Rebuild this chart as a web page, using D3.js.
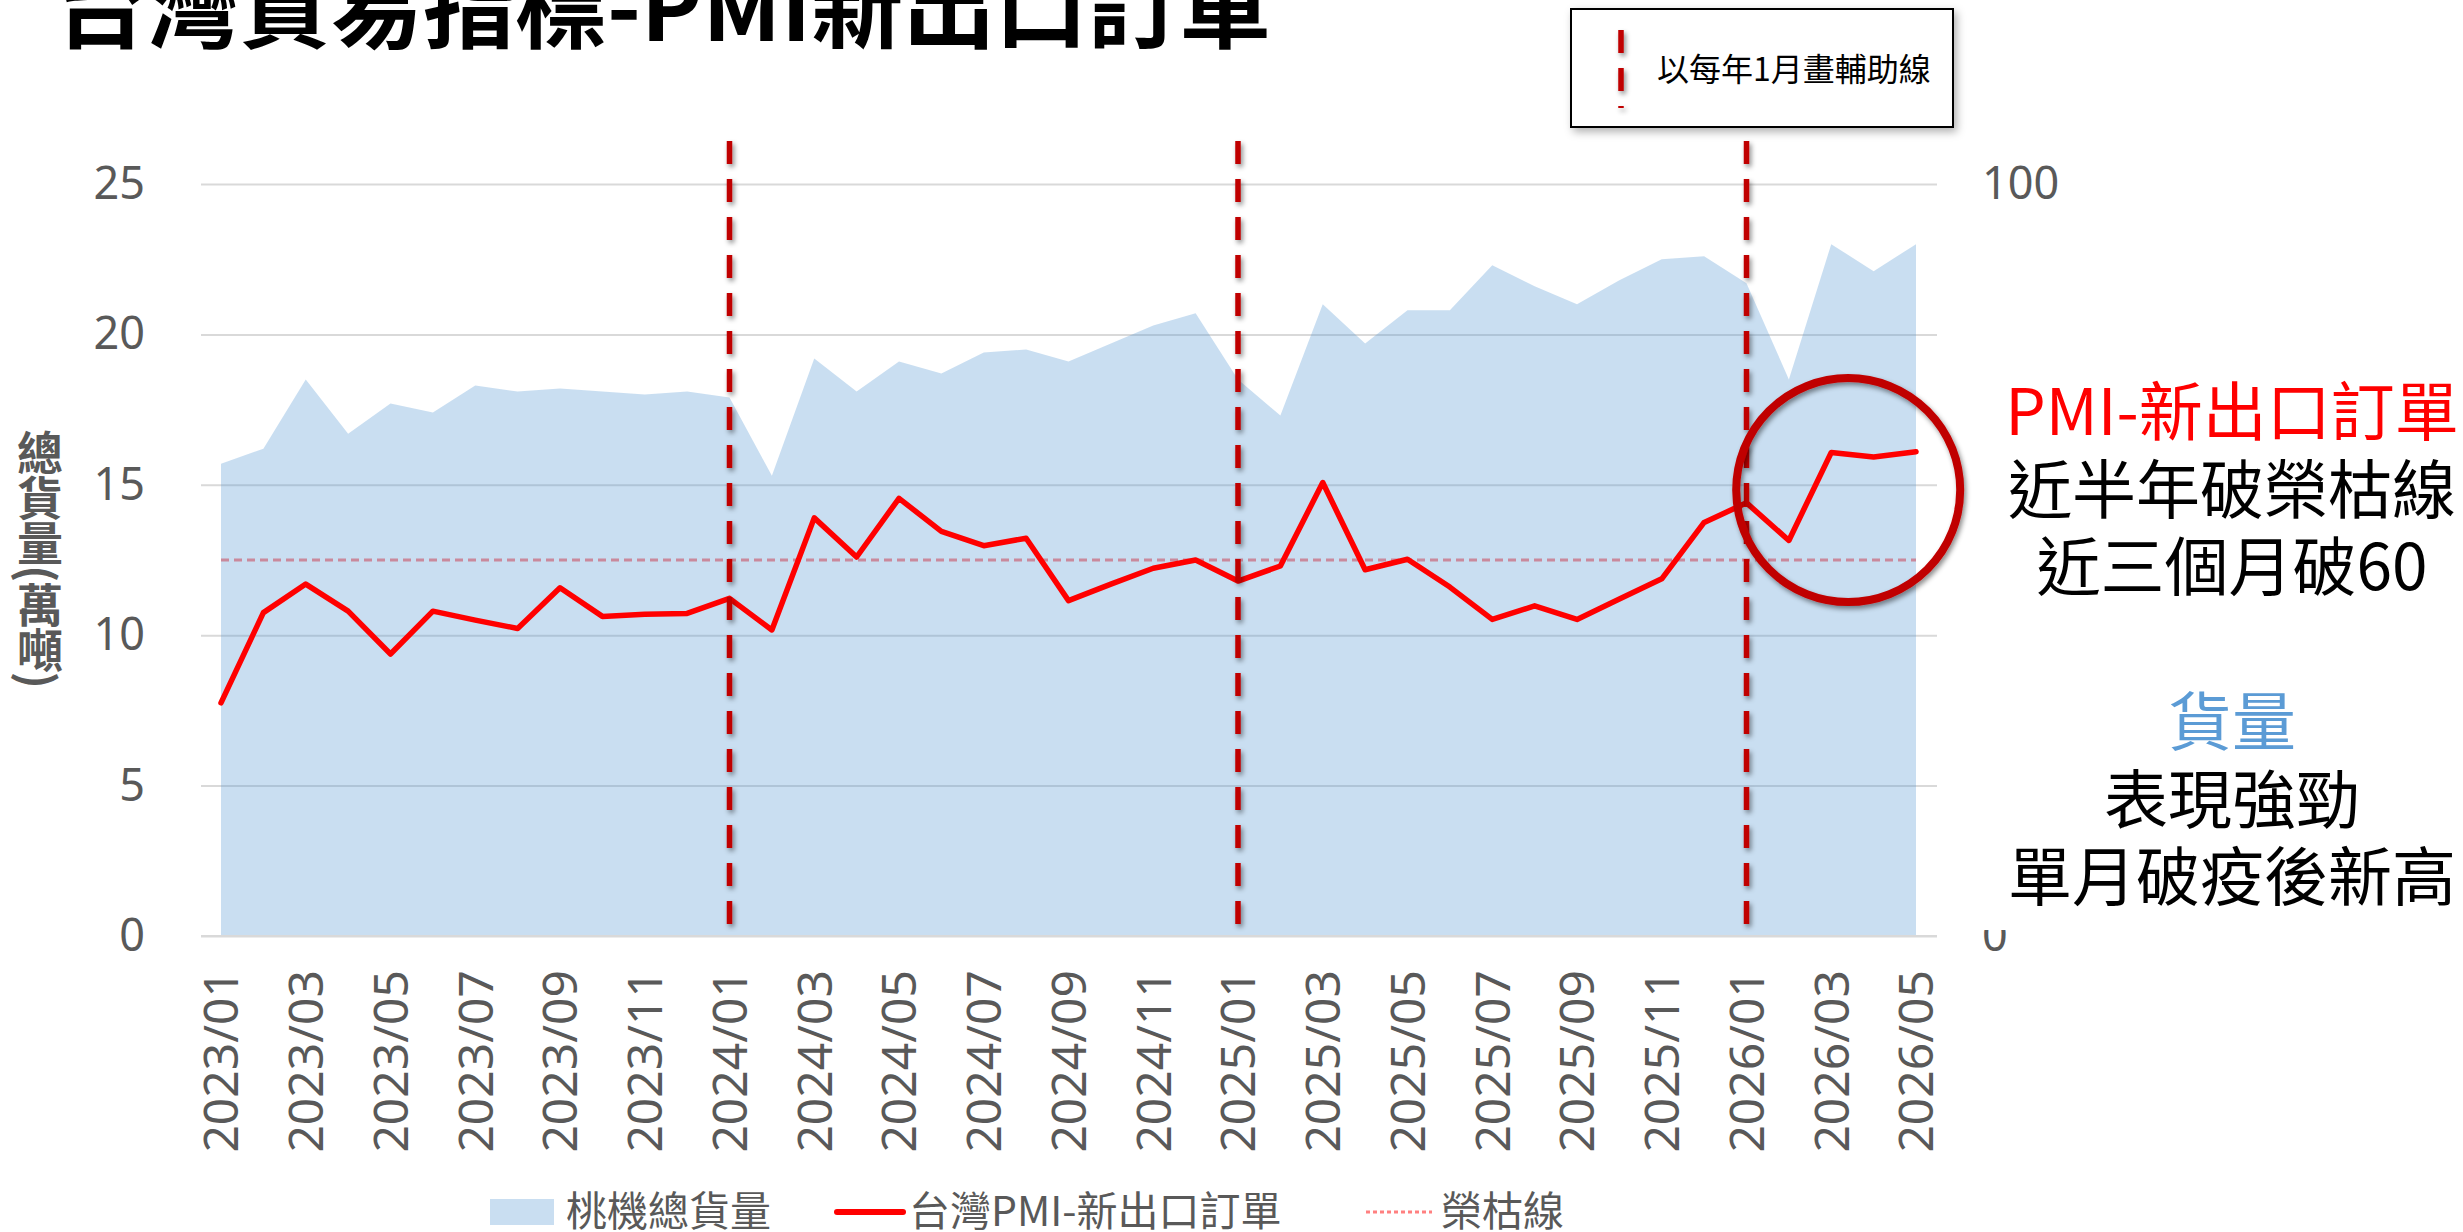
<!DOCTYPE html>
<html>
<head>
<meta charset="utf-8">
<script src="https://cdn.jsdelivr.net/npm/d3@7/dist/d3.min.js"></script>
<style>
  body { margin: 0; background: #fff; }
  svg { display: block; font-family: "Noto Sans CJK TC", "Noto Sans", sans-serif; }
</style>
</head>
<body>
<div id="chart"></div>
<script>
// Monthly data, 2023/01 - 2026/05
var months = [
  "2023/01","2023/02","2023/03","2023/04","2023/05","2023/06","2023/07","2023/08","2023/09","2023/10","2023/11","2023/12",
  "2024/01","2024/02","2024/03","2024/04","2024/05","2024/06","2024/07","2024/08","2024/09","2024/10","2024/11","2024/12",
  "2025/01","2025/02","2025/03","2025/04","2025/05","2025/06","2025/07","2025/08","2025/09","2025/10","2025/11","2025/12",
  "2026/01","2026/02","2026/03","2026/04","2026/05"
];

// 桃機總貨量 (萬噸), left axis
var cargo = [
  15.7, 16.2, 18.5, 16.7, 17.7, 17.4, 18.3, 18.1, 18.2, 18.1, 18.0, 18.1,
  17.9, 15.3, 19.2, 18.1, 19.1, 18.7, 19.4, 19.5, 19.1, 19.7, 20.3, 20.7,
  18.5, 17.3, 21.0, 19.7, 20.8, 20.8, 22.3, 21.6, 21.0, 21.8, 22.5, 22.6,
  21.7, 18.5, 23.0, 22.1, 23.0
];

// 台灣PMI-新出口訂單, right axis
var pmiExport = [
  31.0, 43.0, 46.8, 43.2, 37.5, 43.2, 42.0, 40.9, 46.3, 42.5, 42.8, 42.9,
  44.9, 40.7, 55.6, 50.4, 58.2, 53.8, 51.9, 52.9, 44.6, 46.8, 48.9, 50.0,
  47.2, 49.2, 60.3, 48.7, 50.1, 46.4, 42.1, 43.9, 42.1, 44.8, 47.5, 55.0,
  57.6, 52.6, 64.3, 63.7, 64.4
];

var boomBust = 50;               // 榮枯線
var leftTicks = [0, 5, 10, 15, 20, 25];
var rightTicks = [0, 100];
var labelEvery = 2;              // x labels on odd months

var title = "台灣貿易指標-PMI新出口訂單";
var noteLines = [
  {text: "PMI-新出口訂單", color: "#FF0000"},
  {text: "近半年破榮枯線", color: "#000"},
  {text: "近三個月破60", color: "#000"},
  {text: "", color: "#000"},
  {text: "貨量", color: "#5B9BD5"},
  {text: "表現強勁", color: "#000"},
  {text: "單月破疫後新高", color: "#000"}
];

var W = 2463, H = 1232;
var gridLeft = 201, gridRight = 1937;
var plotTop = 184, plotBottom = 936;
var grey = "#595959";

var x = d3.scaleLinear().domain([0, months.length - 1]).range([221, 1916]);
var yL = d3.scaleLinear().domain([0, 25]).range([plotBottom, plotTop]);
var yR = d3.scaleLinear().domain([0, 100]).range([plotBottom, plotTop]);

var svg = d3.select("#chart").append("svg")
    .attr("width", W)
    .attr("height", H);

// shadows (user space so thin vertical lines keep a filter region)
var defs = svg.append("defs");
var sh = defs.append("filter").attr("id", "shadow")
    .attr("filterUnits", "userSpaceOnUse")
    .attr("x", 0).attr("y", 0).attr("width", W).attr("height", H);
sh.append("feDropShadow").attr("dx", 2).attr("dy", 3).attr("stdDeviation", 2.5)
    .attr("flood-color", "#000").attr("flood-opacity", 0.45);
var boxSh = defs.append("filter").attr("id", "boxshadow")
    .attr("filterUnits", "userSpaceOnUse")
    .attr("x", 0).attr("y", 0).attr("width", W).attr("height", H);
boxSh.append("feDropShadow").attr("dx", 3).attr("dy", 4).attr("stdDeviation", 4)
    .attr("flood-color", "#000").attr("flood-opacity", 0.3);

// gridlines
svg.append("g")
    .attr("transform", "translate(" + gridLeft + ",0)")
    .call(d3.axisLeft(yL).tickValues(leftTicks).tickSize(-(gridRight - gridLeft)).tickFormat(""))
    .call(function(g) {
        g.select(".domain").remove();
        g.selectAll("line").attr("stroke", "#D9D9D9").attr("stroke-width", 2);
    });

// 榮枯線 (under the transparent area)
svg.append("line")
    .attr("x1", x(0)).attr("x2", x(months.length - 1))
    .attr("y1", yR(boomBust)).attr("y2", yR(boomBust))
    .attr("stroke", "#FF8080")
    .attr("stroke-width", 3)
    .attr("stroke-dasharray", "8,5");

// cargo area
var area = d3.area()
    .x(function(d, i) { return x(i); })
    .y0(yL(0))
    .y1(function(d) { return yL(d); });

svg.append("path")
    .datum(cargo)
    .attr("d", area)
    .attr("fill", "rgb(91,155,213)")
    .attr("fill-opacity", 0.33);

// PMI line
var line = d3.line()
    .x(function(d, i) { return x(i); })
    .y(function(d) { return yR(d); });

svg.append("path")
    .datum(pmiExport)
    .attr("d", line)
    .attr("fill", "none")
    .attr("stroke", "#FF0000")
    .attr("stroke-width", 5.5)
    .attr("stroke-linejoin", "round")
    .attr("stroke-linecap", "round");

// helper lines at every January
var januaries = months.map(function(m, i) { return i; })
    .filter(function(i) { return i > 0 && months[i].slice(5) === "01"; });

svg.append("g")
    .attr("filter", "url(#shadow)")
    .selectAll("line")
    .data(januaries)
    .enter().append("line")
    .attr("x1", function(i) { return x(i); })
    .attr("x2", function(i) { return x(i); })
    .attr("y1", 141).attr("y2", 930)
    .attr("stroke", "#C00000")
    .attr("stroke-width", 5.5)
    .attr("stroke-dasharray", "23,15");

// left axis labels
svg.append("g")
    .attr("transform", "translate(" + gridLeft + ",0)")
    .call(d3.axisLeft(yL).tickValues(leftTicks).tickSize(0).tickPadding(56))
    .call(function(g) {
        g.select(".domain").remove();
        g.selectAll("text").attr("fill", grey).style("font-size", "45px")
            .style("font-family", "'Noto Sans', sans-serif");
    });

// x axis
svg.append("g")
    .attr("transform", "translate(0," + plotBottom + ")")
    .call(d3.axisBottom(x)
        .tickValues(d3.range(0, months.length, labelEvery))
        .tickSize(0)
        .tickFormat(function(i) { return months[i]; }))
    .call(function(g) {
        g.select(".domain").remove();
        g.selectAll("text")
            .attr("transform", "rotate(-90)")
            .attr("x", -34).attr("y", 0).attr("dy", "0.35em")
            .attr("text-anchor", "end")
            .attr("fill", grey)
            .style("font-size", "48px")
            .style("font-family", "'Noto Sans', sans-serif");
    });

svg.append("line")
    .attr("x1", gridLeft).attr("x2", gridRight)
    .attr("y1", plotBottom).attr("y2", plotBottom)
    .attr("stroke", "#D9D9D9").attr("stroke-width", 2);

// right axis labels
svg.append("g")
    .attr("transform", "translate(" + gridRight + ",0)")
    .call(d3.axisRight(yR).tickValues(rightTicks).tickSize(0).tickPadding(45))
    .call(function(g) {
        g.select(".domain").remove();
        g.selectAll("text").attr("fill", grey).style("font-size", "45px")
            .style("font-family", "'Noto Sans', sans-serif");
    });

// y axis title
svg.append("text")
    .attr("x", 40).attr("y", 430)
    .style("writing-mode", "vertical-rl")
    .style("font-size", "46px")
    .style("letter-spacing", "-1px")
    .style("font-weight", "bold")
    .attr("fill", grey)
    .text("總貨量(萬噸)");

// white box behind notes
svg.append("rect")
    .attr("x", 1966).attr("y", 300)
    .attr("width", W - 1966).attr("height", 630)
    .attr("fill", "#fff");

svg.selectAll(".note")
    .data(noteLines)
    .enter().append("text")
    .attr("class", "note")
    .attr("x", 2232)
    .attr("y", function(d, i) { return 413 + i * 77.5; })
    .attr("dy", "0.35em")
    .attr("text-anchor", "middle")
    .attr("fill", function(d) { return d.color; })
    .style("font-size", "64px")
    .text(function(d) { return d.text; });

// highlight circle over the last months
svg.append("circle")
    .attr("cx", x(38.4))
    .attr("cy", yR(59.3))
    .attr("r", 112)
    .attr("fill", "none")
    .attr("stroke", "#C00000")
    .attr("stroke-width", 8)
    .attr("filter", "url(#shadow)");

// title (cut off at the top)
svg.append("text")
    .attr("x", 55).attr("y", 41)
    .style("font-size", "92px")
    .style("font-weight", "bold")
    .attr("fill", "#000")
    .text(title);

// helper-line legend box
svg.append("rect")
    .attr("x", 1571).attr("y", 9)
    .attr("width", 382).attr("height", 118)
    .attr("fill", "#fff")
    .attr("stroke", "#000")
    .attr("stroke-width", 2)
    .attr("filter", "url(#boxshadow)");
svg.append("g")
    .attr("filter", "url(#shadow)")
    .append("line")
    .attr("x1", 1621).attr("x2", 1621)
    .attr("y1", 30).attr("y2", 108)
    .attr("stroke", "#C00000")
    .attr("stroke-width", 5.5)
    .attr("stroke-dasharray", "23,15");
svg.append("text")
    .attr("x", 1657).attr("y", 70)
    .attr("dy", "0.35em")
    .style("font-size", "32px")
    .attr("fill", "#000")
    .text("以每年1月畫輔助線");

// bottom legend
var lg = svg.append("g").attr("transform", "translate(0,1212)");
lg.append("rect").attr("x", 490).attr("y", -13).attr("width", 64).attr("height", 26).attr("fill", "rgb(91,155,213)").attr("fill-opacity", 0.33);
lg.append("text").attr("x", 566).attr("dy", "0.35em").text("桃機總貨量");
lg.append("line").attr("x1", 837).attr("x2", 903).attr("stroke", "#FF0000").attr("stroke-width", 6).attr("stroke-linecap", "round");
lg.append("text").attr("x", 909).attr("dy", "0.35em").text("台灣PMI-新出口訂單");
lg.append("line").attr("x1", 1366).attr("x2", 1432).attr("stroke", "#FF8080").attr("stroke-width", 3).attr("stroke-dasharray", "4,3");
lg.append("text").attr("x", 1441).attr("dy", "0.35em").text("榮枯線");
lg.selectAll("text").attr("fill", grey).style("font-size", "41px");
</script>
</body>
</html>
